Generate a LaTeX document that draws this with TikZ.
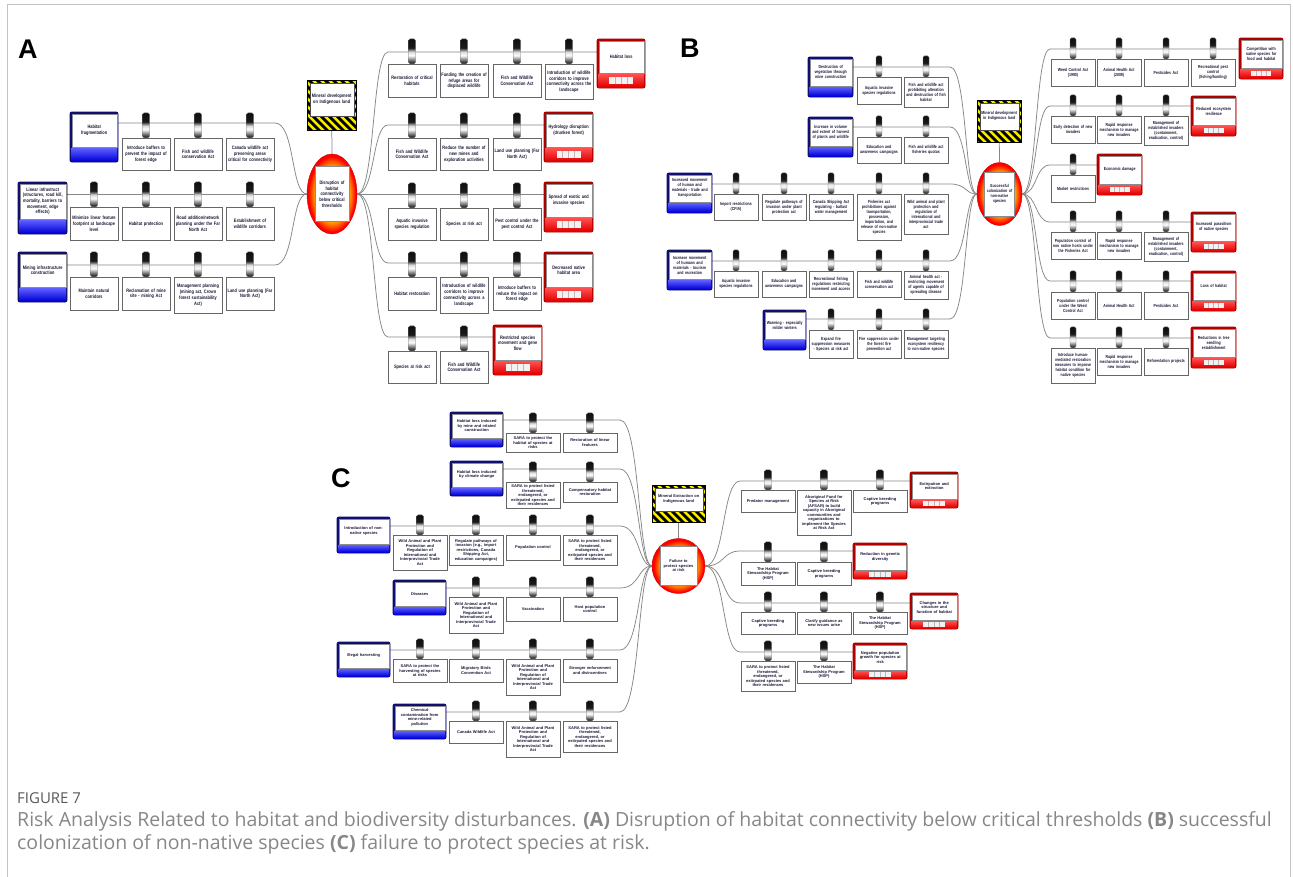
\documentclass[tikz,border=0pt]{standalone}
\usepackage{fontspec}
\usetikzlibrary{shapes.geometric}
\newfontfamily\condf[FakeStretch=0.8]{Liberation Sans}
\newfontfamily\plainf{Liberation Sans}
\newfontfamily\capf{Open Sans}

\definecolor{txt}{RGB}{25,25,55}
\definecolor{linkgray}{RGB}{135,135,135}
\definecolor{navy}{RGB}{15,15,115}
\definecolor{darkred}{RGB}{175,0,0}
\definecolor{frameg}{RGB}{195,195,195}
\definecolor{capg}{RGB}{105,105,105}
\definecolor{hzyellow}{RGB}{245,235,0}

% metallic barrel and top-event fills
\pgfdeclareverticalshading{barrelshade}{100bp}{color(0bp)=(black); color(28bp)=(black!80); color(42bp)=(white); color(49bp)=(white!85!black); color(57bp)=(black!90); color(100bp)=(black)}
\pgfdeclareradialshading{topshade}{\pgfpoint{0bp}{0bp}}{color(0bp)=(yellow); color(16bp)=(yellow!55!orange); color(20bp)=(orange!75!red); color(23.5bp)=(red); color(50bp)=(red)}

\pgfdeclarelayer{bg}
\pgfdeclarelayer{frames}
\pgfsetlayers{bg,frames,main}

\newcommand\fontA{\condf\bfseries\fontsize{4.9}{5.7}\selectfont\hyphenpenalty=10000 }
\newcommand\fontB{\condf\bfseries\fontsize{4.4}{5.0}\selectfont\hyphenpenalty=10000 }
\newcommand\fontC{\plainf\bfseries\fontsize{4.0}{4.5}\selectfont\hyphenpenalty=10000 }

\tikzset{
  link/.style={draw=linkgray, line width=0.75pt},
  ctlbox/.style={draw=black!60, line width=0.55pt, fill=white, align=center, inner sep=0pt, text=txt, font=\curfont},
  barrel/.style={draw=black!55, line width=0.4pt, shading=barrelshade, rounded corners=1.5pt, inner sep=0pt},
  innerbox/.style={draw=black!45, line width=0.4pt, fill=white, align=center, inner sep=0pt, text=txt, font=\curfont},
  topell/.style={ellipse, inner sep=0pt, shading=topshade, draw=red!80!black, line width=0.4pt},
}

% control box with its barrel: name, centre x, top y, min height, text
\newcommand\ctl[5]{%
  \node[ctlbox, minimum width=\ctlw pt, text width=\ctlw pt, minimum height=#4pt, anchor=north] (#1) at (#2,#3) {#5};
  \node[barrel, minimum width=\barw pt, minimum height=\barh pt, anchor=south] (#1-b) at (#2,#3) {};
}
% threat box: name, left, top, width, height, text
\newcommand\threat[6]{%
  \pgfmathsetmacro\bxw{#4-3}\pgfmathsetmacro\bxh{#5-\bandh-3}%
  \node[innerbox, minimum width=\bxw pt, text width=\bxw pt, minimum height=\bxh pt, anchor=north west] (#1) at (#2+1.5,#3+1.5) {#6};
  \begin{pgfonlayer}{frames}
    \filldraw[draw=navy, fill=navy, line width=0.9pt, rounded corners=2pt] (#2,#3) rectangle (#2+#4,#3+#5);
    \shade[top color={rgb,255:red,95;green,95;blue,255}, bottom color={rgb,255:red,0;green,0;blue,215}] (#2+1,#3+#5-\bandh) rectangle (#2+#4-1,#3+#5-1);
  \end{pgfonlayer}}
% consequence box: name, left, top, width, height, text
\newcommand\cons[6]{%
  \pgfmathsetmacro\bxw{#4-3}\pgfmathsetmacro\bxh{#5-\bandh-3}%
  \node[innerbox, minimum width=\bxw pt, text width=\bxw pt, minimum height=\bxh pt, anchor=north west] (#1) at (#2+1.5,#3+1.5) {#6};
  \begin{pgfonlayer}{frames}
    \filldraw[draw=darkred, fill=darkred, line width=0.9pt, rounded corners=2pt] (#2,#3) rectangle (#2+#4,#3+#5);
    \shade[top color={rgb,255:red,255;green,80;blue,80}, bottom color={rgb,255:red,225;green,0;blue,0}] (#2+1,#3+#5-\bandh) rectangle (#2+#4-1,#3+#5-1);
    \pgfmathsetmacro\rcx{#2+#4/2}\pgfmathsetmacro\rcy{#3+#5-\bandh/2-0.5}%
    \fill[white!90!gray] (\rcx-\ratew/2,\rcy-\rateh/2) rectangle (\rcx+\ratew/2,\rcy+\rateh/2);
    \foreach \k in {1,2,3}{\draw[gray!55, line width=0.5pt] (\rcx-\ratew/2+\k*\ratew/4,\rcy-\rateh/2) -- (\rcx-\ratew/2+\k*\ratew/4,\rcy+\rateh/2);}
  \end{pgfonlayer}}
% hazard box with striped frame: name, left, top, width, height, text
\newcommand\hazard[6]{%
  \pgfmathsetmacro\bxw{#4-5}\pgfmathsetmacro\bxh{#5-\hzband-5}%
  \node[innerbox, draw=black!70, minimum width=\bxw pt, text width=\bxw pt, minimum height=\bxh pt, anchor=north west] (#1) at (#2+2.5,#3+2.5) {#6};
  \begin{pgfonlayer}{frames}
    \fill[hzyellow] (#2,#3) rectangle (#2+#4,#3+#5);
    \begin{scope}
      \clip (#2,#3) rectangle (#2+#4,#3+#5);
      \foreach \s in {-64,-56,...,64}{\fill[black] (#2+\s,#3) -- (#2+\s+4,#3) -- (#2+\s+4+#5,#3+#5) -- (#2+\s+#5,#3+#5) -- cycle;}
    \end{scope}
    \draw[black, line width=0.7pt] (#2,#3) rectangle (#2+#4,#3+#5);
  \end{pgfonlayer}}
% top event: name, centre x, centre y, ellipse w, h, label w, h, text
\newcommand\topevent[8]{%
  \node[topell, minimum width=#4pt, minimum height=#5pt] (#1) at (#2,#3) {};
  \node[innerbox, minimum width=#6pt, minimum height=#7pt, text width=#6pt] (#1-t) at (#2,#3) {#8};
}

\newcommand\txtWAP{Wild Animal and Plant\\Protection and\\Regulation of\\International and\\Interprovincial Trade\\Act}
\newcommand\txtSARA{SARA to protect listed\\threatened,\\endangered, or\\extirpated species and\\their residences}
\newcommand\txtHSP{The Habitat\\Stewardship Program\\(HSP)}
\newcommand\txtCB{Captive breeding\\programs}
\newcommand\txtRR{Rapid response\\mechanism to manage\\new invaders}
\newcommand\txtMEI{Management of\\established invaders\\(containment,\\eradication, control)}

\begin{document}
\begin{tikzpicture}[x=1pt, y=-1pt]
\useasboundingbox (0,0) rectangle (1293,876);
\begin{pgfonlayer}{bg}
\fill[white] (0,0) rectangle (1293,876);
\end{pgfonlayer}
\draw[frameg, line width=1pt] (7,880) -- (7,4) -- (1290,4) -- (1290,880);

\node[font=\plainf\bfseries\fontsize{27}{27}\selectfont, anchor=base west, inner sep=0pt] (labA) at (18,58) {A};
\node[font=\plainf\bfseries\fontsize{27}{27}\selectfont, anchor=base west, inner sep=0pt] (labB) at (680,57) {B};
\node[font=\plainf\bfseries\fontsize{27}{27}\selectfont, anchor=base west, inner sep=0pt] (labC) at (331,487) {C};

%% ---------------- Panel A ----------------
\begin{scope}
\def\curfont{\fontA}\def\ctlw{48}\def\barw{7}\def\barh{25}\def\bandh{14}\def\ratew{24}\def\rateh{7}\def\hzband{12}
\threat{aT1}{70}{112}{48}{50}{Habitat\\fragmentation}
\threat{aT2}{18}{182}{49}{52}{Linear infrastruct\\(structures, road kill,\\mortality, barriers to\\movement, edge\\effects)}
\threat{aT3}{18}{252}{49}{50}{Mining infrastructure\\construction}

\ctl{aB11}{146}{138}{32}{Introduce buffers to\\prevent the impact of\\forest edge}
\ctl{aB12}{198}{138}{32}{Fish and wildlife\\conservation Act}
\ctl{aB13}{250}{138}{32}{Canada wildlife act\\preserving areas\\critical for connectivity}
\ctl{aB21}{94}{207}{33}{Minimize linear feature\\footprint at landscape\\level}
\ctl{aB22}{146}{207}{33}{Habitat protection}
\ctl{aB23}{198}{207}{33}{Road addition/network\\planning under the Far\\North Act}
\ctl{aB24}{250}{207}{33}{Establishment of\\wildlife corridors}
\ctl{aB31}{94}{277}{33}{Maintain natural\\corridors}
\ctl{aB32}{146}{277}{33}{Reclamation of mine\\site - mining Act}
\ctl{aB33}{198}{277}{36}{Management planning\\(mining act, Crown\\forest sustainability\\Act)}
\ctl{aB34}{250}{277}{33}{Land use planning (Far\\North Act)}

\hazard{aH}{307}{80}{49}{50}{Mineral development\\on Indigenous land}
\topevent{aTop}{332}{194}{50}{80}{34}{55}{Disruption of\\habitat\\connectivity\\below critical\\thresholds}

\ctl{aC11}{412}{64}{33}{Restoration of critical\\habitats}
\ctl{aC12}{464}{64}{33}{Funding the creation of\\refuge areas for\\displaced wildlife}
\ctl{aC13}{517}{64}{33}{Fish and Wildlife\\Conservation Act}
\ctl{aC14}{569}{64}{35}{Introduction of wildlife\\corridors to improve\\connectivity across the\\landscape}
\cons{aR1}{597}{39}{48}{49}{Habitat loss}
\ctl{aC21}{412}{138}{32}{Fish and Wildlife\\Conservation Act}
\ctl{aC22}{464}{138}{32}{Reduce the number of\\new mines and\\exploration activities}
\ctl{aC23}{517}{138}{32}{Land use planning (Far\\North Act)}
\cons{aR2}{544}{112}{49}{50}{Hydrology disruption\\(drunken forest)}
\ctl{aC31}{412}{208}{32}{Aquatic invasive\\species regulation}
\ctl{aC32}{464}{208}{32}{Species at risk act}
\ctl{aC33}{517}{208}{32}{Pest control under the\\pest control Act}
\cons{aR3}{544}{182}{49}{50}{Spread of exotic and\\invasive species}
\ctl{aC41}{412}{277}{33}{Habitat restoration}
\ctl{aC42}{464}{277}{36}{Introduction of wildlife\\corridors to improve\\connectivity across a\\landscape}
\ctl{aC43}{517}{277}{33}{Introduce buffers to\\reduce the impact on\\forest edge}
\cons{aR4}{544}{252}{49}{50}{Decreased native\\habitat area}
\ctl{aC51}{412}{351}{32}{Species at risk act}
\ctl{aC52}{464}{351}{32}{Fish and Wildlife\\Conservation Act}
\cons{aR5}{493}{325}{49}{50}{Restricted species\\movement and gene\\flow}

\coordinate (aL1) at (275,123);
\coordinate (aL3) at (275,265);
\coordinate (aS1) at (388,52);
\coordinate (aS2) at (388,125);
\coordinate (aS4) at (388,263);
\coordinate (aS5) at (388,337);
\begin{pgfonlayer}{bg}
\draw[link] (aT1.east |- aL1) -- (aL1) .. controls +(20,0) and +(-16,0) .. (aTop.west);
\draw[link] (aT2.east |- aTop.west) -- (aTop.west);
\draw[link] (aT3.east |- aL3) -- (aL3) .. controls +(20,0) and +(-16,0) .. (aTop.west);
\draw[link] (aH.south) -- (aTop.north);
\draw[link] (aTop.east) .. controls +(18,0) and +(-16,0) .. (aS1) -- (aR1.west |- aS1);
\draw[link] (aTop.east) .. controls +(18,0) and +(-16,0) .. (aS2) -- (aR2.west |- aS2);
\draw[link] (aTop.east) -- (aR3.west |- aTop.east);
\draw[link] (aTop.east) .. controls +(18,0) and +(-16,0) .. (aS4) -- (aR4.west |- aS4);
\draw[link] (aTop.east) .. controls +(18,0) and +(-16,0) .. (aS5) -- (aR5.west |- aS5);
\end{pgfonlayer}
\end{scope}

%% ---------------- Panel B ----------------
\begin{scope}
\def\curfont{\fontB}\def\ctlw{44}\def\barw{6}\def\barh{21}\def\bandh{10}\def\ratew{20}\def\rateh{5}\def\hzband{10}
\hazard{bH}{977}{100}{44}{42}{Mineral development\\in Indigenous land}
\topevent{bTop}{999.5}{194}{45}{63}{30}{44}{Successful\\colonization of\\non-native\\species}

\ctl{bC11}{1073}{59}{27}{Weed Control Act\\(1990)}
\ctl{bC12}{1119}{59}{27}{Animal Health Act\\(2009)}
\ctl{bC13}{1166}{59}{27}{Pesticides Act}
\ctl{bC14}{1213}{59}{27}{Recreational pest\\control\\(fishing/hunting)}
\cons{bR1}{1239}{38}{44}{41}{Competition with\\native species for\\food and habitat}
\ctl{bC21}{1073}{116}{27}{Early detection of new\\invaders}
\ctl{bC22}{1119}{116}{27}{\txtRR}
\ctl{bC23}{1166}{116}{29}{\txtMEI}
\cons{bR2}{1191}{96}{45}{40}{Reduced ecosystem\\resilience}
\ctl{bC31}{1073}{175}{27}{Market restrictions}
\cons{bR3}{1097}{154}{45}{41}{Economic damage}
\ctl{bC41}{1073}{232}{27}{Population control of\\non native hosts under\\the Fisheries Act}
\ctl{bC42}{1119}{232}{27}{\txtRR}
\ctl{bC43}{1166}{232}{29}{\txtMEI}
\cons{bR4}{1191}{212}{45}{40}{Increased parasitism\\of native species}
\ctl{bC51}{1073}{292}{27}{Population control\\under the Weed\\Control Act}
\ctl{bC52}{1119}{292}{27}{Animal Health Act}
\ctl{bC53}{1166}{292}{27}{Pesticides Act}
\cons{bR5}{1191}{271}{45}{40}{Loss of habitat}
\ctl{bC61}{1073}{348}{35}{Introduce human-\\mediated restoration\\measures to improve\\habitat condition for\\native species}
\ctl{bC62}{1119}{348}{27}{\txtRR}
\ctl{bC63}{1166}{348}{27}{Reforestation projects}
\cons{bR6}{1191}{327}{45}{41}{Reductions in tree\\seedling\\establishment}

\threat{bT1}{808}{57}{45}{40}{Destruction of\\vegetation through\\mine construction}
\threat{bT2}{808}{117}{45}{40}{Increase in volume\\and extent of harvest\\of plants and wildlife}
\threat{bT3}{667}{173}{45}{40}{Increased movement\\of human and\\materials - trade and\\transportation}
\threat{bT4}{667}{250}{45}{40}{Increase movement\\of humans and\\materials - tourism\\and recreation}
\threat{bT5}{763}{310}{43}{40}{Warming - especially\\milder winters}

\ctl{bD11}{879}{77}{27}{Aquatic invasive\\species regulations}
\ctl{bD12}{926}{77}{30}{Fish and wildlife act\\prohibiting alteration\\and destruction of fish\\habitat}
\ctl{bD21}{879}{137}{26}{Education and\\awareness campaigns}
\ctl{bD22}{926}{137}{26}{Fish and wildlife act\\fisheries quotas}
\ctl{bD31}{736}{194}{26}{Import restrictions\\(CFIA)}
\ctl{bD32}{784}{194}{26}{Regulate pathways of\\invasion under plant\\protection act}
\ctl{bD33}{831}{194}{26}{Canada Shipping Act\\regulating - ballast\\water management}
\ctl{bD34}{879}{194}{46}{Fisheries act\\prohibitions against\\transportation,\\possession,\\importation, and\\release of non-native\\species}
\ctl{bD35}{926}{194}{40}{Wild animal and plant\\protection and\\regulation of\\international and\\interprovincial trade\\act}
\ctl{bD41}{736}{271}{26}{Aquatic invasive\\species regulations}
\ctl{bD42}{784}{271}{26}{Education and\\awareness campaigns}
\ctl{bD43}{831}{271}{26}{Recreational fishing\\regulations restricting\\movement and access}
\ctl{bD44}{879}{271}{26}{Fish and wildlife\\conservation act}
\ctl{bD45}{926}{271}{28}{Animal health act -\\restricting movement\\of agents capable of\\spreading disease}
\ctl{bD51}{831}{330}{28}{Expand fire\\suppression measures\\- Species at risk act}
\ctl{bD52}{879}{330}{28}{Fire suppression under\\the forest fire\\prevention act}
\ctl{bD53}{926}{330}{28}{Management targeting\\ecosystem resiliency\\to non-native species}

\coordinate (bL1) at (950,67);
\coordinate (bL2) at (950,127);
\coordinate (bL3) at (950,184);
\coordinate (bL4) at (950,261);
\coordinate (bL5) at (950,319);
\coordinate (bS1) at (1050,49);
\coordinate (bS2) at (1050,106);
\coordinate (bS3) at (1050,165);
\coordinate (bS4) at (1050,222);
\coordinate (bS5) at (1050,281);
\coordinate (bS6) at (1050,338);
\begin{pgfonlayer}{bg}
\draw[link] (bT1.east |- bL1) -- (bL1) .. controls +(17,0) and +(-12,0) .. (bTop.west);
\draw[link] (bT2.east |- bL2) -- (bL2) .. controls +(17,0) and +(-12,0) .. (bTop.west);
\draw[link] (bT3.east |- bL3) -- (bL3) .. controls +(17,0) and +(-12,0) .. (bTop.west);
\draw[link] (bT4.east |- bL4) -- (bL4) .. controls +(17,0) and +(-12,0) .. (bTop.west);
\draw[link] (bT5.east |- bL5) -- (bL5) .. controls +(17,0) and +(-12,0) .. (bTop.west);
\draw[link] (bH.south) -- (bTop.north);
\draw[link] (bTop.east) .. controls +(15,0) and +(-15,0) .. (bS1) -- (bR1.west |- bS1);
\draw[link] (bTop.east) .. controls +(15,0) and +(-15,0) .. (bS2) -- (bR2.west |- bS2);
\draw[link] (bTop.east) .. controls +(15,0) and +(-15,0) .. (bS3) -- (bR3.west |- bS3);
\draw[link] (bTop.east) .. controls +(15,0) and +(-15,0) .. (bS4) -- (bR4.west |- bS4);
\draw[link] (bTop.east) .. controls +(15,0) and +(-15,0) .. (bS5) -- (bR5.west |- bS5);
\draw[link] (bTop.east) .. controls +(15,0) and +(-15,0) .. (bS6) -- (bR6.west |- bS6);
\end{pgfonlayer}
\end{scope}

%% ---------------- Panel C ----------------
\begin{scope}
\def\curfont{\fontC}\def\ctlw{54}\def\barw{7}\def\barh{20}\def\bandh{8}\def\ratew{22}\def\rateh{5}\def\hzband{9}
\hazard{cH}{652}{485}{53}{37}{Mineral Extraction on\\Indigenous land}
\topevent{cTop}{678.5}{566}{53}{55}{37}{39}{Failure to\\protect species\\at risk}

\ctl{cC11}{768}{490}{22}{Predator management}
\ctl{cC12}{824}{490}{45}{Aboriginal Fund for\\Species at Risk\\(AFSAR) to build\\capacity in Aboriginal\\communities and\\organizations to\\implement the Species\\at Risk Act}
\ctl{cC13}{880}{490}{22}{\txtCB}
\cons{cR1}{910}{472}{48}{36}{Extirpation and\\extinction}
\ctl{cC21}{768}{562}{23}{\txtHSP}
\ctl{cC22}{824}{562}{23}{\txtCB}
\cons{cR2}{853}{543}{54}{36}{Reduction in genetic\\diversity}
\ctl{cC31}{768}{612}{22}{\txtCB}
\ctl{cC32}{824}{612}{22}{Clarify guidance as\\new issues arise}
\ctl{cC33}{880}{612}{22}{\txtHSP}
\cons{cR3}{910}{593}{48}{36}{Changes in the\\structure and\\function of habitat}
\ctl{cC41}{768}{661}{30}{\txtSARA}
\ctl{cC42}{824}{661}{22}{\txtHSP}
\cons{cR4}{853}{643}{54}{36}{Negative population\\growth for species at\\risk}

\threat{cT1}{450}{412}{53}{35}{Habitat loss induced\\by mine and related\\construction}
\threat{cT2}{450}{461}{53}{35}{Habitat loss induced\\by climate change}
\threat{cT3}{337}{517}{53}{36}{Introduction of non-\\native species}
\threat{cT4}{393}{580}{53}{35}{Diseases}
\threat{cT5}{337}{642}{53}{35}{Illegal harvesting}
\threat{cT6}{393}{704}{53}{35}{Chemical\\contamination from\\mine-related\\pollution}

\ctl{cD11}{533}{433}{19}{SARA to protect the\\habitat of species at\\risks}
\ctl{cD12}{590}{433}{19}{Restoration of linear\\features}
\ctl{cD21}{533}{482}{26}{\txtSARA}
\ctl{cD22}{590}{482}{20}{Compensatory habitat\\restoration}
\ctl{cD31}{420}{535}{35}{\txtWAP}
\ctl{cD32}{476}{535}{30}{Regulate pathways of\\invasion (e.g., import\\restrictions, Canada\\Shipping Act,\\education campaigns)}
\ctl{cD33}{533}{535}{25}{Population control}
\ctl{cD34}{590}{535}{30}{\txtSARA}
\ctl{cD41}{476}{597}{36}{\txtWAP}
\ctl{cD42}{533}{597}{24}{Vaccination}
\ctl{cD43}{590}{597}{24}{Host population\\control}
\ctl{cD51}{420}{659}{23}{SARA to protect the\\harvesting of species\\at risks}
\ctl{cD52}{476}{659}{23}{Migratory Birds\\Convention Act}
\ctl{cD53}{533}{659}{36}{\txtWAP}
\ctl{cD54}{590}{659}{23}{Stronger enforcement\\and disincentives}
\ctl{cD61}{476}{721}{22}{Canada Wildlife Act}
\ctl{cD62}{533}{721}{36}{\txtWAP}
\ctl{cD63}{590}{721}{31}{\txtSARA}

\coordinate (cL1) at (620,420);
\coordinate (cL2) at (620,469);
\coordinate (cL3) at (620,526);
\coordinate (cL4) at (620,588);
\coordinate (cL5) at (620,650);
\coordinate (cL6) at (620,712);
\coordinate (cS1) at (740,481);
\coordinate (cS2) at (740,551);
\coordinate (cS3) at (740,603);
\coordinate (cS4) at (740,652);
\begin{pgfonlayer}{bg}
\draw[link] (cT1.east |- cL1) -- (cL1) .. controls +(20,0) and +(-14,0) .. (cTop.west);
\draw[link] (cT2.east |- cL2) -- (cL2) .. controls +(20,0) and +(-14,0) .. (cTop.west);
\draw[link] (cT3.east |- cL3) -- (cL3) .. controls +(20,0) and +(-14,0) .. (cTop.west);
\draw[link] (cT4.east |- cL4) -- (cL4) .. controls +(20,0) and +(-14,0) .. (cTop.west);
\draw[link] (cT5.east |- cL5) -- (cL5) .. controls +(20,0) and +(-14,0) .. (cTop.west);
\draw[link] (cT6.east |- cL6) -- (cL6) .. controls +(20,0) and +(-14,0) .. (cTop.west);
\draw[link] (cH.south) -- (cTop.north);
\draw[link] (cTop.east) .. controls +(20,0) and +(-18,0) .. (cS1) -- (cR1.west |- cS1);
\draw[link] (cTop.east) .. controls +(20,0) and +(-18,0) .. (cS2) -- (cR2.west |- cS2);
\draw[link] (cTop.east) .. controls +(20,0) and +(-18,0) .. (cS3) -- (cR3.west |- cS3);
\draw[link] (cTop.east) .. controls +(20,0) and +(-18,0) .. (cS4) -- (cR4.west |- cS4);
\end{pgfonlayer}
\end{scope}

%% ---------------- Caption ----------------
\node[anchor=base west, inner sep=0pt, font=\capf\fontsize{15}{18}\selectfont, text=capg!85!black] (figno) at (17,803) {FIGURE 7};
\node[anchor=base west, inner sep=0pt, font=\capf\fontsize{19.5}{23}\selectfont, text=capg!80] (cap1) at (17,826) {Risk Analysis Related to habitat and biodiversity disturbances. \textbf{(A)} Disruption of habitat connectivity below critical thresholds \textbf{(B)} successful};
\node[anchor=base west, inner sep=0pt, font=\capf\fontsize{19.5}{23}\selectfont, text=capg!80] (cap2) at (17,849) {colonization of non-native species \textbf{(C)} failure to protect species at risk.};
\end{tikzpicture}
\end{document}
